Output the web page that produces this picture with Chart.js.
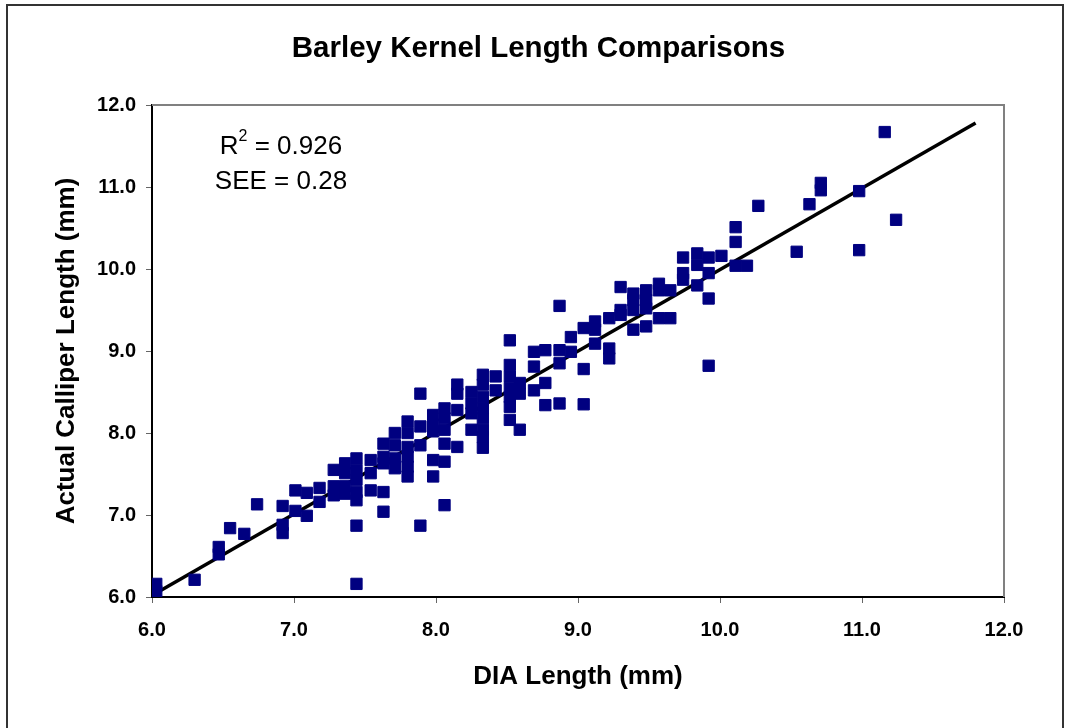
<!DOCTYPE html>
<html lang="en">
  <head>
    <meta charset="UTF-8">
    <title>Barley Kernel Length Comparisons</title>
    <script src="https://cdn.jsdelivr.net/npm/chart.js"></script>
    <style>
      html, body { margin: 0; padding: 0; background: #fff; }
      #wrap { width: 1067px; height: 728px; }
    </style>
  </head>
  <body>
    <div id="wrap"><canvas id="myChart" width="1067" height="728"></canvas></div>
    <script>
      // DIA length (x) and calliper length (y), one line per DIA column
      const diaLength = [
        6.03, 6.03,
        6.30,
        6.47, 6.47,
        6.55,
        6.65,
        6.74,
        6.92, 6.92, 6.92,
        7.01, 7.01,
        7.09, 7.09,
        7.18, 7.18,
        7.28, 7.28, 7.28,
        7.36, 7.36, 7.36, 7.36,
        7.44, 7.44, 7.44, 7.44, 7.44, 7.44, 7.44,
        7.54, 7.54, 7.54,
        7.63, 7.63, 7.63, 7.63, 7.63,
        7.71, 7.71, 7.71, 7.71,
        7.80, 7.80, 7.80, 7.80, 7.80, 7.80,
        7.89, 7.89, 7.89, 7.89,
        7.98, 7.98, 7.98, 7.98, 7.98,
        8.06, 8.06, 8.06, 8.06, 8.06, 8.06,
        8.15, 8.15, 8.15, 8.15,
        8.25, 8.25, 8.25, 8.25,
        8.33, 8.33, 8.33, 8.33, 8.33, 8.33, 8.33, 8.33,
        8.42, 8.42,
        8.52, 8.52, 8.52, 8.52, 8.52, 8.52, 8.52,
        8.59, 8.59, 8.59,
        8.69, 8.69, 8.69,
        8.77, 8.77, 8.77,
        8.87, 8.87, 8.87, 8.87,
        8.95, 8.95,
        9.04, 9.04, 9.04,
        9.12, 9.12, 9.12,
        9.22, 9.22, 9.22,
        9.30, 9.30, 9.30,
        9.39, 9.39, 9.39, 9.39,
        9.48, 9.48, 9.48, 9.48,
        9.57, 9.57, 9.57,
        9.65, 9.65,
        9.74, 9.74, 9.74,
        9.84, 9.84, 9.84,
        9.92, 9.92, 9.92, 9.92,
        10.01,
        10.11, 10.11, 10.11,
        10.19,
        10.27,
        10.54,
        10.63,
        10.71, 10.71,
        10.98, 10.98,
        11.16,
        11.24
      ];
      const calliperLength = [
        6.16, 6.07,
        6.21,
        6.61, 6.52,
        6.84,
        6.77,
        7.13,
        7.11, 6.88, 6.78,
        7.30, 7.05,
        7.27, 6.99,
        7.33, 7.16,
        7.55, 7.35, 7.24,
        7.63, 7.51, 7.35, 7.26,
        7.69, 7.55, 7.43, 7.28, 7.18, 6.87, 6.16,
        7.67, 7.51, 7.30,
        7.87, 7.71, 7.63, 7.28, 7.04,
        8.00, 7.85, 7.69, 7.57,
        8.14, 8.00, 7.83, 7.71, 7.59, 7.47,
        8.48, 8.08, 7.85, 6.87,
        8.22, 8.10, 8.02, 7.67, 7.47,
        8.30, 8.18, 8.04, 7.87, 7.65, 7.12,
        8.59, 8.48, 8.28, 7.83,
        8.50, 8.36, 8.24, 8.04,
        8.71, 8.59, 8.44, 8.30, 8.18, 8.04, 7.95, 7.82,
        8.69, 8.52,
        9.13, 8.83, 8.69, 8.55, 8.44, 8.32, 8.16,
        8.61, 8.48, 8.04,
        8.99, 8.81, 8.52,
        9.01, 8.61, 8.34,
        9.55, 9.01, 8.85, 8.36,
        9.17, 8.99,
        9.28, 8.78, 8.35,
        9.36, 9.26, 9.09,
        9.40, 9.03, 8.91,
        9.78, 9.50, 9.44,
        9.70, 9.62, 9.50, 9.26,
        9.74, 9.62, 9.52, 9.30,
        9.82, 9.74, 9.40,
        9.74, 9.40,
        10.14, 9.95, 9.87,
        10.19, 10.05, 9.80,
        10.14, 9.95, 9.64, 8.82,
        10.16,
        10.51, 10.33, 10.04,
        10.04,
        10.77,
        10.21,
        10.79,
        11.05, 10.96,
        10.95, 10.23,
        11.67,
        10.60
      ];

      // regression line end points
      const fitX = [6.03, 11.80];
      const fitY = [6.05, 11.78];

      const chartTitle = "Barley Kernel Length Comparisons";
      const statLines = ["R", "2", " = 0.926", "SEE = 0.28"];

      const points = diaLength.map((x, i) => ({ x: x, y: calliperLength[i] }));
      const fitLine = fitX.map((x, i) => ({ x: x, y: fitY[i] }));

      const FONT = "'Liberation Sans', Arial, sans-serif";

      // outer frame, title, gray top/right plot border and R2/SEE text
      const decorPlugin = {
        id: "decor",
        beforeDatasetsDraw(chart) {
          const { ctx, chartArea } = chart;
          ctx.save();
          ctx.strokeStyle = "#808080";
          ctx.lineWidth = 2;
          ctx.beginPath();
          ctx.moveTo(chartArea.left, chartArea.top);
          ctx.lineTo(chartArea.right, chartArea.top);
          ctx.lineTo(chartArea.right, chartArea.bottom);
          ctx.stroke();
          ctx.restore();
        },
        afterDraw(chart) {
          const { ctx } = chart;
          ctx.save();
          ctx.strokeStyle = "#333";
          ctx.lineWidth = 2;
          ctx.strokeRect(7, 5, 1056, 740);

          // title
          ctx.fillStyle = "#000";
          ctx.textAlign = "center";
          ctx.textBaseline = "alphabetic";
          ctx.font = "bold 29.5px " + FONT;
          ctx.fillText(chartTitle, 538.5, 57);

          // stats box text
          const cx = 281;
          ctx.textAlign = "left";
          ctx.font = "26px " + FONT;
          const wR = ctx.measureText(statLines[0]).width;
          const wRest = ctx.measureText(statLines[2]).width;
          ctx.font = "16px " + FONT;
          const wSup = ctx.measureText(statLines[1]).width;
          let x0 = cx - (wR + wSup + wRest) / 2;
          ctx.font = "26px " + FONT;
          ctx.fillText(statLines[0], x0, 154);
          ctx.font = "16px " + FONT;
          ctx.fillText(statLines[1], x0 + wR, 141);
          ctx.font = "26px " + FONT;
          ctx.fillText(statLines[2], x0 + wR + wSup, 154);
          ctx.textAlign = "center";
          ctx.fillText(statLines[3], cx, 189);
          ctx.restore();
        }
      };

      const ctx = document.getElementById("myChart").getContext("2d");
      const chart = new Chart(ctx, {
        type: "scatter",
        data: {
          datasets: [
            {
              label: "Kernels",
              data: points,
              pointStyle: "rect",
              pointRadius: 8,
              pointHoverRadius: 8,
              backgroundColor: "#000080",
              borderColor: "#000080",
              borderWidth: 1
            },
            {
              label: "Fit",
              type: "line",
              data: fitLine,
              borderColor: "#000",
              borderWidth: 3.5,
              pointRadius: 0,
              fill: false
            }
          ]
        },
        options: {
          responsive: false,
          animation: false,
          layout: { padding: { left: 0, right: 63, top: 105, bottom: 0 } },
          plugins: {
            legend: { display: false },
            tooltip: { enabled: false },
            title: { display: false }
          },
          scales: {
            x: {
              type: "linear",
              min: 6,
              max: 12,
              afterFit: (scale) => { scale.height = 131; },
              grid: { drawOnChartArea: false, tickLength: 6, color: "#666", lineWidth: 1 },
              border: { color: "#000", width: 2 },
              ticks: {
                stepSize: 1,
                padding: 15,
                color: "#000",
                font: { family: FONT, size: 20, weight: "bold" },
                callback: (v) => v.toFixed(1)
              },
              title: {
                display: true,
                text: "DIA Length (mm)",
                color: "#000",
                font: { family: FONT, size: 26, weight: "bold" },
                padding: { bottom: 36 }
              }
            },
            y: {
              type: "linear",
              min: 6,
              max: 12,
              afterFit: (scale) => { scale.width = 152; },
              grid: { drawOnChartArea: false, tickLength: 6, color: "#666", lineWidth: 1 },
              border: { color: "#000", width: 2 },
              ticks: {
                stepSize: 1,
                padding: 10,
                color: "#000",
                font: { family: FONT, size: 20, weight: "bold" },
                callback: (v) => v.toFixed(1)
              },
              title: {
                display: true,
                text: "Actual Calliper Length (mm)",
                color: "#000",
                font: { family: FONT, size: 26, weight: "bold" },
                padding: { top: 51 }
              }
            }
          }
        },
        plugins: [decorPlugin]
      });
    </script>
  </body>
</html>
